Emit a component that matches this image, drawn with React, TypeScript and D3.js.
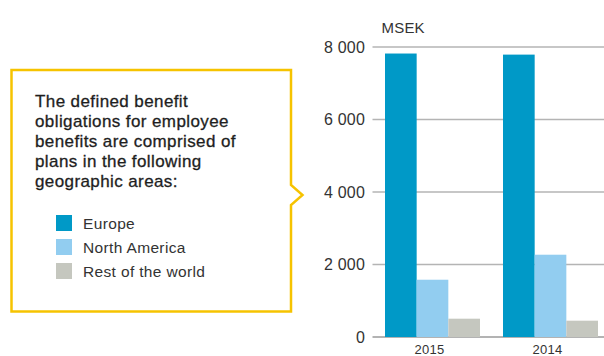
import React from "react";
import * as d3 from "d3";

const years = ["2015", "2014"];
const regions = ["Europe", "North America", "Rest of the world"];
const europe = [7820, 7790];
const northAmerica = [1580, 2270];
const restOfWorld = [505, 450];
const yTicks = [0, 2000, 4000, 6000, 8000];
const colors = ["#0099c7", "#92cdf0", "#c5c7bf"];
const calloutLines = [
  "The defined benefit",
  "obligations for employee",
  "benefits are comprised of",
  "plans in the following",
  "geographic areas:",
];

const W = 604;
const H = 356;
const font = "'Liberation Sans', Arial, Helvetica, sans-serif";

export default function App() {
  const series = [europe, northAmerica, restOfWorld];
  const y = d3.scaleLinear().domain([0, 8000]).range([337, 47]);
  const x0 = d3.scaleBand().domain(years).range([373.2, 609.8]).paddingInner(0.195).paddingOuter(0.1);
  const x1 = d3.scaleBand().domain(regions).range([0, x0.bandwidth()]);
  const fmt = (v: number) => d3.format(",")(v).replace(/,/g, " ");

  const boxL = 11.5, boxT = 70, boxR = 291, boxB = 311.5;
  const arrowTop = 185, arrowBot = 205, arrowTip = 302.5;
  const calloutPath = `M${boxL},${boxT}H${boxR}V${arrowTop}L${arrowTip},${(arrowTop + arrowBot) / 2}L${boxR},${arrowBot}V${boxB}H${boxL}Z`;

  return (
    <svg width={W} height={H} style={{ position: "absolute", left: 0, top: 0, fontFamily: font }}>
      <rect width={W} height={H} fill="#fff" />
      {/* callout */}
      <path d={calloutPath} fill="#fff" stroke="#f6c300" strokeWidth={2.5} />
      {calloutLines.map((t, i) => (
        <text
          key={t}
          x={35}
          y={106.5 + i * 20}
          fontSize={17}
          letterSpacing={0.4}
          fill="#1e1e1e"
          stroke="#1e1e1e"
          strokeWidth={0.3}
        >
          {t}
        </text>
      ))}
      {regions.map((r, i) => (
        <g key={r}>
          <rect x={56} y={215 + i * 24} width={16} height={16} fill={colors[i]} />
          <text x={83} y={228.5 + i * 24} fontSize={15.5} letterSpacing={0.35} fill="#333">
            {r}
          </text>
        </g>
      ))}
      {/* grid */}
      {yTicks.map((t) => (
        <g key={t}>
          <line x1={372.5} x2={W} y1={y(t)} y2={y(t)} stroke={t === 0 ? "#9a9a9a" : "#b4b4b4"} strokeWidth={1.3} />
          <text x={365} y={y(t)} dy="0.36em" textAnchor="end" fontSize={16} letterSpacing={0.2} fill="#333">
            {fmt(t)}
          </text>
        </g>
      ))}
      <text x={381.5} y={33} fontSize={15} letterSpacing={0.2} fill="#333">
        MSEK
      </text>
      {years.map((yr, j) => (
        <g key={yr} transform={`translate(${x0(yr)},0)`}>
          {series.map((s, i) => (
            <rect
              key={regions[i]}
              x={x1(regions[i])}
              y={y(s[j])}
              width={x1.bandwidth()}
              height={y(0) - y(s[j])}
              fill={colors[i]}
            />
          ))}
          <text x={x0.bandwidth() / 2 - 3} y={354} textAnchor="middle" fontSize={13} letterSpacing={0.3} fill="#333">
            {yr}
          </text>
        </g>
      ))}
    </svg>
  );
}
